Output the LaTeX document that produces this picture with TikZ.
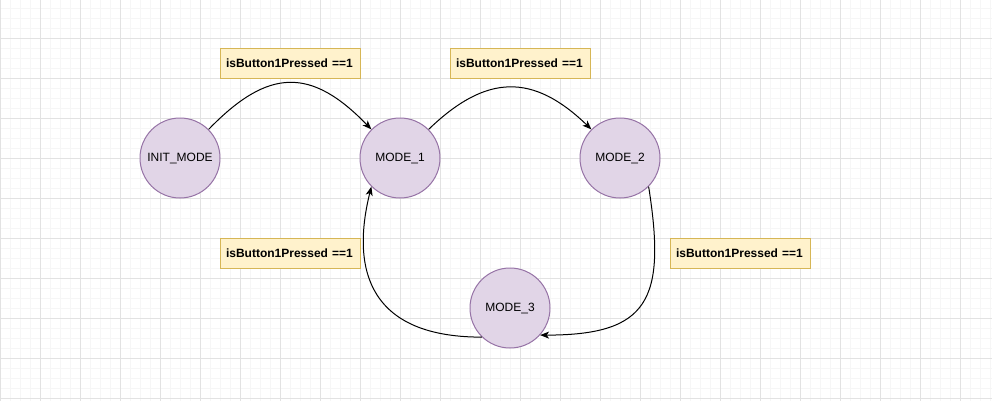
\documentclass[tikz,border=0pt]{standalone}
\usepackage{fontspec}
\setmainfont{Liberation Sans}
\usetikzlibrary{arrows.meta}
\definecolor{statefill}{HTML}{E1D5E7}
\definecolor{statedraw}{HTML}{9673A6}
\definecolor{notefill}{HTML}{FFF2CC}
\definecolor{notedraw}{HTML}{D6B656}
\definecolor{gridmajor}{HTML}{E2E2E2}
\definecolor{gridminor}{HTML}{F6F6F6}
\tikzset{
  state/.style={circle, draw=statedraw, fill=statefill, line width=1pt, minimum size=80pt, inner sep=0pt, font=\fontsize{12pt}{14pt}\selectfont},
  note/.style={rectangle, draw=notedraw, fill=notefill, line width=1pt, minimum width=140pt, minimum height=30pt, text width=128pt, inner xsep=6pt, inner ysep=0pt, align=left, font=\fontsize{12pt}{14pt}\selectfont\bfseries},
  trans/.style={draw=black, line width=1pt, -{Stealth[length=9pt,width=7pt,inset=2.5pt]}},
}
\begin{document}
\begin{tikzpicture}[x=1pt,y=1pt]
\useasboundingbox (0,-400) rectangle (992,0);
\fill[white] (0,-400) rectangle (992,0);
\begin{scope}
\clip (0,-400) rectangle (992,0);
\begin{scope}[yshift=2pt]
\draw[gridminor, line width=0.8pt] (0,-420) grid[step=10pt] (1000,20);
\draw[gridmajor, line width=1pt] (0,-420) grid[step=40pt] (1000,20);
\end{scope}
\end{scope}

\node[state] (init) at (180,-158) {INIT\_MODE};
\node[state] (m1) at (400,-158) {MODE\_1};
\node[state] (m2) at (620,-158) {MODE\_2};
\node[state] (m3) at (510,-308) {MODE\_3};

\node[note] (l1) at (290,-63) {isButton1Pressed ==1};
\node[note] (l2) at (520,-63) {isButton1Pressed ==1};
\node[note] (l3) at (290,-253) {isButton1Pressed ==1};
\node[note] (l4) at (740,-253) {isButton1Pressed ==1};

\draw[trans] (init.45) .. controls +(60,62) and +(-60,62) .. (m1.135);
\draw[trans] (m1.45) .. controls +(58,56) and +(-58,56) .. (m2.135);
\draw[trans] (m2.-45) .. controls +(18,-114) and +(108,0) .. (m3.-42);
\draw[trans] (m3.-134) .. controls +(-122,0) and +(-18,-72) .. (m1.-135);
\end{tikzpicture}
\end{document}
